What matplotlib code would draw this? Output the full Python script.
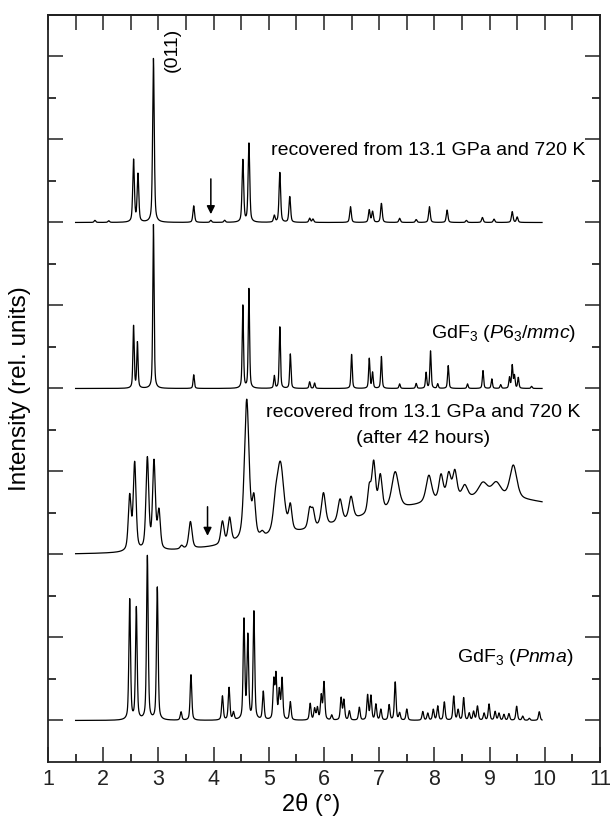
import matplotlib
matplotlib.use("Agg")
import matplotlib.pyplot as plt
from matplotlib.ticker import MultipleLocator
import numpy as np

plt.rcParams['font.family'] = ['Liberation Sans', 'DejaVu Sans']
plt.rcParams['mathtext.fontset'] = 'custom'
plt.rcParams['mathtext.rm'] = 'Liberation Sans'
plt.rcParams['mathtext.it'] = 'Liberation Sans:italic'

# peak lists (2theta in deg, height in axis units)
# recovered from 13.1 GPa / 720 K, offset 13
rec_pos = [1.85, 2.10, 2.55, 2.63, 2.91, 3.64, 3.95, 4.20, 4.53, 4.64, 5.10, 5.20, 5.38,
           5.74, 5.80, 6.48, 6.82, 6.88, 7.04, 7.37, 7.67, 7.91, 8.23, 8.58, 8.87, 9.08,
           9.41, 9.50]
rec_h = [0.05, 0.04, 1.50, 1.15, 3.95, 0.40, 0.05, 0.05, 1.50, 1.90, 0.16, 1.20, 0.62,
         0.10, 0.08, 0.38, 0.30, 0.26, 0.46, 0.10, 0.07, 0.38, 0.30, 0.05, 0.12, 0.08,
         0.26, 0.13]

# GdF3 P6_3/mmc, offset 9
p63_pos = [2.55, 2.62, 2.91, 3.64, 4.53, 4.64, 5.10, 5.20, 5.39, 5.74, 5.83, 6.50, 6.82,
           6.88, 7.04, 7.37, 7.67, 7.85, 7.93, 8.06, 8.25, 8.60, 8.88, 9.04, 9.20, 9.36,
           9.41, 9.45, 9.52, 9.76]
p63_h = [1.50, 1.10, 3.95, 0.33, 2.00, 2.40, 0.30, 1.48, 0.83, 0.16, 0.13, 0.82, 0.72,
         0.38, 0.77, 0.11, 0.12, 0.38, 0.90, 0.11, 0.55, 0.11, 0.43, 0.23, 0.09, 0.26,
         0.55, 0.30, 0.26, 0.05]

# recovered after 42 hours, offset 5
h42_pos = [2.48, 2.57, 2.80, 2.92, 3.01, 3.42, 3.58, 4.16, 4.29, 4.60, 4.73, 4.88, 5.12,
           5.21, 5.39, 5.74, 5.80, 5.99, 6.29, 6.49, 6.82, 6.90, 7.02, 7.29, 7.90, 8.12,
           8.26, 8.37, 8.55, 8.88, 9.12, 9.43]
h42_h = [1.30, 2.10, 2.20, 2.10, 0.90, 0.08, 0.65, 0.55, 0.60, 3.40, 0.90, 0.10, 0.50,
         1.70, 0.60, 0.45, 0.40, 0.80, 0.55, 0.55, 0.60, 1.20, 0.85, 0.90, 0.65, 0.60,
         0.60, 0.65, 0.30, 0.35, 0.35, 0.80]
h42_w = [0.06, 0.06, 0.06, 0.06, 0.06, 0.06, 0.07, 0.07, 0.07, 0.10, 0.07, 0.07, 0.10,
         0.15, 0.07, 0.07, 0.07, 0.09, 0.09, 0.09, 0.07, 0.08, 0.08, 0.15, 0.12, 0.09,
         0.09, 0.09, 0.12, 0.20, 0.20, 0.15]
h42_bg = [9.0, 1.35, 2.5]   # centre, height, sigma of the broad hump

# GdF3 Pnma, offset 1
pnma_pos = [2.48, 2.60, 2.80, 2.98, 3.41, 3.59, 4.16, 4.28, 4.36, 4.55, 4.62, 4.73, 4.90,
            5.09, 5.13, 5.19, 5.24, 5.39, 5.75, 5.83, 5.88, 5.95, 6.00, 6.14, 6.31, 6.36,
            6.46, 6.64, 6.79, 6.85, 6.94, 7.03, 7.18, 7.29, 7.37, 7.50, 7.79, 7.88, 7.98,
            8.06, 8.18, 8.35, 8.43, 8.53, 8.63, 8.71, 8.78, 8.90, 8.99, 9.10, 9.17, 9.26,
            9.35, 9.49, 9.60, 9.72, 9.90]
pnma_h = [2.90, 2.70, 3.95, 3.20, 0.20, 1.10, 0.58, 0.78, 0.18, 2.40, 2.00, 2.60, 0.68,
          0.92, 1.05, 0.68, 0.98, 0.44, 0.40, 0.27, 0.29, 0.58, 0.90, 0.12, 0.53, 0.48,
          0.22, 0.31, 0.60, 0.58, 0.38, 0.26, 0.37, 0.92, 0.17, 0.27, 0.21, 0.17, 0.26,
          0.34, 0.44, 0.58, 0.25, 0.54, 0.17, 0.21, 0.34, 0.17, 0.39, 0.21, 0.17, 0.14,
          0.16, 0.34, 0.10, 0.05, 0.21]

offsets = [13, 9, 5, 1]


def pv(x, pos, h, w, eta=0.5):
    y = np.zeros_like(x)
    w = np.broadcast_to(w, np.shape(pos))
    for p, a, fw in zip(pos, h, w):
        hw = fw / 2
        lor = 1 / (1 + ((x - p) / hw) ** 2)
        gau = np.exp(-np.log(2) * ((x - p) / hw) ** 2)
        y += a * (eta * lor + (1 - eta) * gau)
    return y


x = np.linspace(1.5, 9.95, 5000)
rec = offsets[0] + pv(x, rec_pos, rec_h, 0.035)
p63 = offsets[1] + pv(x, p63_pos, p63_h, 0.028)
bgc, bga, bgs = h42_bg
h42 = offsets[2] + pv(x, h42_pos, h42_h, h42_w) + bga * np.exp(-(x - bgc) ** 2 / (2 * bgs ** 2))
pnma = offsets[3] + pv(x, pnma_pos, pnma_h, 0.035)

fig = plt.figure(figsize=(6.1, 8.19), dpi=100)
ax = fig.add_axes([0.0787, 0.0696, 0.9049, 0.9121])

for y in [rec, p63, h42, pnma]:
    ax.plot(x, y, color='black', lw=0.9)

ax.set_xlim(1, 11)
ax.set_ylim(0, 18)
ax.xaxis.set_major_locator(MultipleLocator(1))
ax.xaxis.set_minor_locator(MultipleLocator(0.5))
ax.set_yticks(np.arange(1, 18, 2))
ax.set_yticks(np.arange(2, 17, 2), minor=True)
ax.set_yticklabels([])
ax.tick_params(which='major', direction='in', length=11, width=1.1, left=True, right=True,
               bottom=True, top=False, labelsize=15.5, colors='#222222', pad=5)
ax.tick_params(which='minor', direction='in', length=6, width=1.1, left=True, right=True,
               bottom=True, top=False)
sec = ax.secondary_xaxis('top')
sec.set_xticks(np.arange(1, 11.01, 0.5))
sec.set_xticklabels([])
sec.tick_params(direction='in', length=11, width=1.1, colors='#222222')
sec.spines['top'].set_linewidth(1.3)
for s in ax.spines.values():
    s.set_linewidth(1.3)
    s.set_color('#222222')

ax.set_xlabel('2\u03b8 (\u00b0)', fontsize=17)
ax.xaxis.set_label_coords(0.476, -0.041)
ax.set_ylabel('Intensity (rel. units)', fontsize=17.5)
ax.yaxis.set_label_coords(-0.03, 0.5)

fs = 14
ax.text(10.74, 14.74, 'recovered from 13.1 GPa and 720 K', fontsize=fs, ha='right', va='center')
ax.text(3.245, 17.15, '(011)', fontsize=fs, rotation=90, ha='center', va='center')
ax.text(10.57, 10.33, r'GdF$_3$ ($P$6$_3$/$mmc$)', fontsize=fs, ha='right', va='center')
ax.text(7.8, 8.43, 'recovered from 13.1 GPa and 720 K', fontsize=fs, ha='center', va='center')
ax.text(7.8, 7.79, '(after 42 hours)', fontsize=fs, ha='center', va='center')
ax.text(10.51, 2.52, r'GdF$_3$ ($Pnma$)', fontsize=fs, ha='right', va='center')

arrow = dict(arrowstyle='-|>', color='black', lw=1.1, mutation_scale=12, shrinkA=0, shrinkB=0)
ax.annotate('', xy=(3.95, 13.2), xytext=(3.95, 14.05), arrowprops=arrow)
ax.annotate('', xy=(3.89, 5.45), xytext=(3.89, 6.15), arrowprops=arrow)

fig.savefig('out.png', dpi=100)
